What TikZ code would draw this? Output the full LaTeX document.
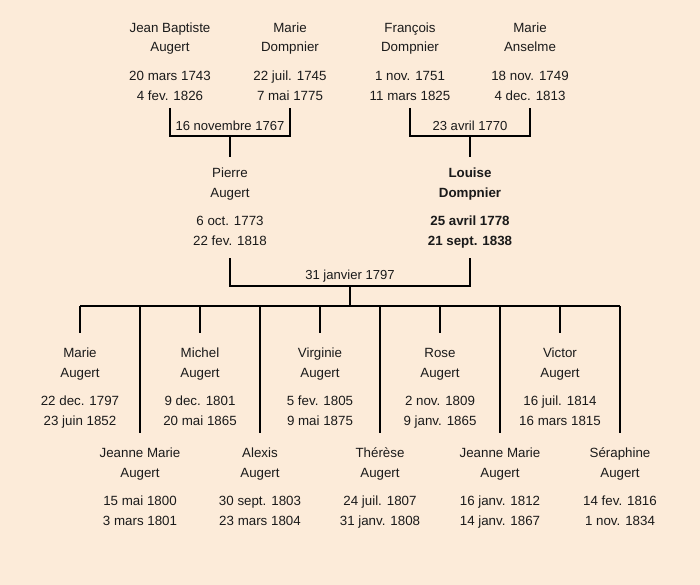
\documentclass[tikz,border=0pt]{standalone}
\usepackage{fontspec}
\setmainfont{Liberation Sans}
\definecolor{bg}{HTML}{FCEBD9}
\definecolor{ink}{HTML}{1A1A1A}
\begin{document}
\begin{tikzpicture}[x=0.75pt,y=-0.75pt,
  person/.style={align=center, anchor=base, inner sep=0pt, text=ink,
    font=\fontsize{10}{15}\selectfont},
  wedding/.style={anchor=base, inner sep=0pt, text=ink, font=\fontsize{9.8}{15}\selectfont},
  link/.style={line width=1.5pt, black}]
\useasboundingbox (0,0) rectangle (700,585);
\fill[bg] (0,0) rectangle (700,585);

% grandparents (anchor = baseline of the last line)
\node[person] (jb) at (170,100) {Jean Baptiste\\Augert\\[6pt]20 mars 1743\\4 fev. 1826};
\node[person] (md) at (290,100) {Marie\\Dompnier\\[6pt]22 juil. 1745\\7 mai 1775};
\node[person] (fd) at (410,100) {François\\Dompnier\\[6pt]1 nov. 1751\\11 mars 1825};
\node[person] (ma) at (530,100) {Marie\\Anselme\\[6pt]18 nov. 1749\\4 dec. 1813};

% parents
\node[person] (pa) at (230,245) {Pierre\\Augert\\[6pt]6 oct. 1773\\22 fev. 1818};
\node[person, font=\fontsize{10}{15}\selectfont\bfseries] (ld) at (470,245) {Louise\\Dompnier\\[6pt]25 avril 1778\\21 sept. 1838};

% marriage labels
\node[wedding] (w1) at (230,130) {16 novembre 1767};
\node[wedding] (w2) at (470,130) {23 avril 1770};
\node[wedding] (w3) at (350,279) {31 janvier 1797};

% bracket coordinates
\coordinate (jbB) at (170,108);
\coordinate (mdB) at (290,108);
\coordinate (w1M) at (230,136);
\coordinate (paT) at (230,157);
\coordinate (fdB) at (410,108);
\coordinate (maB) at (530,108);
\coordinate (w2M) at (470,136);
\coordinate (ldT) at (470,157);
\coordinate (paB) at (230,258);
\coordinate (ldB) at (470,258);
\coordinate (w3M) at (350,286);
\coordinate (bar) at (350,306);
\coordinate (barL) at (80,306);
\coordinate (barR) at (620,306);

\draw[link] (jbB) |- (w1M) -| (mdB);
\draw[link] (w1M) -- (paT);
\draw[link] (fdB) |- (w2M) -| (maB);
\draw[link] (w2M) -- (ldT);
\draw[link] (paB) |- (w3M) -| (ldB);
\draw[link] (w3M) -- (bar);
\draw[link] (barL) -- (barR);

% children, first row
\foreach \x/\n/\nm/\da/\db in {
  80/c1/Marie/22 dec. 1797/23 juin 1852,
  200/c3/Michel/9 dec. 1801/20 mai 1865,
  320/c5/Virginie/5 fev. 1805/9 mai 1875,
  440/c7/Rose/2 nov. 1809/9 janv. 1865,
  560/c9/Victor/16 juil. 1814/16 mars 1815}{
  \node[person] (\n) at (\x,425) {\nm\\Augert\\[6pt]\da\\\db};
  \coordinate (\n T) at (\x,333);
  \coordinate (\n B) at (\x,306);
  \draw[link] (\n B) -- (\n T);
}
% children, second row
\foreach \x/\n/\nm/\da/\db in {
  140/c2/Jeanne Marie/15 mai 1800/3 mars 1801,
  260/c4/Alexis/30 sept. 1803/23 mars 1804,
  380/c6/Thérèse/24 juil. 1807/31 janv. 1808,
  500/c8/Jeanne Marie/16 janv. 1812/14 janv. 1867,
  620/c10/Séraphine/14 fev. 1816/1 nov. 1834}{
  \node[person] (\n) at (\x,525) {\nm\\Augert\\[6pt]\da\\\db};
  \coordinate (\n T) at (\x,433);
  \coordinate (\n B) at (\x,306);
  \draw[link] (\n B) -- (\n T);
}
\end{tikzpicture}
\end{document}
